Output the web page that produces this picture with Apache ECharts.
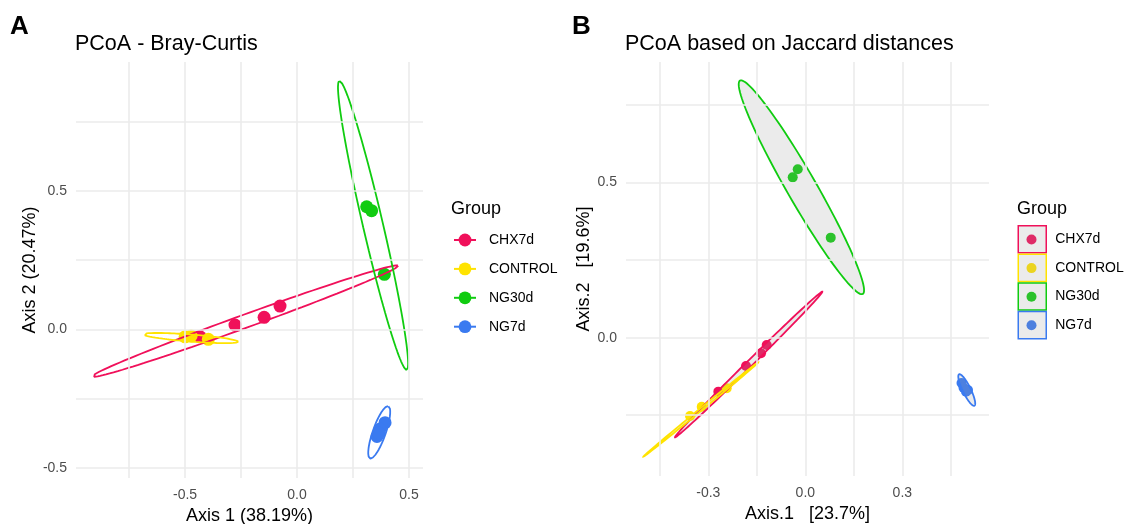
<!DOCTYPE html>
<html>
<head>
<meta charset="utf-8">
<script src="https://cdn.jsdelivr.net/npm/echarts@6/dist/echarts.min.js"></script>
<style>
  html, body { margin: 0; padding: 0; background: #fff; }
  #main { width: 1135px; height: 524px; }
</style>
</head>
<body>
<div id="main"></div>
<script>
const groups = ['CHX7d', 'CONTROL', 'NG30d', 'NG7d']
const groupColors = ['#F0105A', '#FFE300', '#10CC10', '#3A7AF0']

// panel A - Bray-Curtis ordination (Axis 1, Axis 2)
const brayCHX7d = [[-0.433, -0.027], [-0.277, 0.0155], [-0.147, 0.0434], [-0.076, 0.0842]]
const brayCONTROL = [[-0.500, -0.027], [-0.473, -0.024], [-0.396, -0.036]]
const brayNG30d = [[0.311, 0.443], [0.333, 0.429], [0.390, 0.199]]
const brayNG7d = [[0.393, -0.337], [0.3705, -0.360], [0.357, -0.387], [0.366, -0.375]]
// ellipses: centre, major semi-axis, minor semi-axis (data units), same order as groups
const brayEllipseCenter = [[-0.232, 0.0295], [-0.474, -0.0314], [0.3395, 0.3755], [0.367, -0.372]]
const brayEllipseMajor = [[0.684, 0.2005], [0.212, -0.0134], [-0.1505, 0.5225], [0.0408, 0.0945]]
const brayEllipseMinor = [[0.0100, -0.0224], [-0.0012, -0.0126], [0.0435, 0.0082], [0.0273, -0.0077]]
const brayXRange = [-0.987, 0.5625]
const brayYRange = [-0.537, 0.966]
const brayXTicks = [-0.5, 0, 0.5]
const brayYTicks = [-0.5, 0, 0.5]
const brayXMinor = [-0.75, -0.25, 0.25]
const brayYMinor = [-0.25, 0.25, 0.75]

// panel B - Jaccard ordination
const jacCHX7d = [[-0.1194, -0.0235], [-0.137, -0.0503], [-0.1834, -0.0913], [-0.269, -0.174]]
const jacCONTROL = [[-0.3566, -0.2526], [-0.3204, -0.2226], [-0.2431, -0.1632]]
const jacNG30d = [[-0.039, 0.517], [-0.0235, 0.543], [0.0786, 0.3226]]
const jacNG7d = [[0.483, -0.146], [0.489, -0.161], [0.497, -0.174], [0.503, -0.169]]
const jacEllipseCenter = [[-0.1753, -0.0865], [-0.3232, -0.2316], [-0.0122, 0.485], [0.4992, -0.1687]]
const jacEllipseMajor = [[0.2278, 0.2348], [0.1779, 0.1523], [0.1898, -0.344], [0.0237, -0.0506]]
const jacEllipseMinor = [[0.0065, -0.0069], [0.00235, -0.0030], [0.0394, 0.0236], [0.0111, 0.00565]]
const jacXRange = [-0.5546, 0.568]
const jacYRange = [-0.446, 0.889]
const jacXTicks = [-0.3, 0, 0.3]
const jacYTicks = [0, 0.5]
const jacXMinor = [-0.45, -0.15, 0.15, 0.45]
const jacYMinor = [-0.25, 0.25, 0.75]

const brayPoints = [brayCHX7d, brayCONTROL, brayNG30d, brayNG7d]
const jacPoints = [jacCHX7d, jacCONTROL, jacNG30d, jacNG7d]

const FONT = 'Liberation Sans, Arial, sans-serif'
const GRID_COLOR = '#ebebeb'
const ELLIPSE_FILL = 'rgba(153,153,153,0.2)'

/** outline of an ellipse from its centre and two semi-axis vectors */
function ellipseOutline(c, u, v) {
  const pts = []
  for (let i = 0; i <= 120; i++) {
    const t = 2 * Math.PI * i / 120
    pts.push([
      c[0] + u[0] * Math.cos(t) + v[0] * Math.sin(t),
      c[1] + u[1] * Math.cos(t) + v[1] * Math.sin(t)
    ])
  }
  return pts
}

function fmt(v) {
  return Number(v).toFixed(1)
}

function xAxisOf(gridIndex, range, ticks, name) {
  return {
    gridIndex,
    type: 'value',
    min: range[0],
    max: range[1],
    axisLine: { show: false },
    axisTick: { show: false },
    splitLine: { show: false },
    axisLabel: {
      customValues: ticks,
      formatter: fmt,
      color: '#4d4d4d',
      fontSize: 14,
      margin: 10
    },
    name,
    nameLocation: 'middle',
    nameGap: 28,
    nameTextStyle: { color: '#000', fontSize: 18 }
  }
}

function yAxisOf(gridIndex, range, ticks, name, gap) {
  return {
    gridIndex,
    type: 'value',
    min: range[0],
    max: range[1],
    axisLine: { show: false },
    axisTick: { show: false },
    splitLine: { show: false },
    axisLabel: {
      customValues: ticks,
      formatter: fmt,
      color: '#4d4d4d',
      fontSize: 14,
      margin: 9
    },
    name,
    nameLocation: 'middle',
    nameRotate: 90,
    nameGap: gap,
    nameTextStyle: { color: '#000', fontSize: 18 }
  }
}

// background grid lines drawn as mark lines
function gridSeries(index, xs, ys) {
  return {
    name: 'grid' + index,
    type: 'line',
    xAxisIndex: index,
    yAxisIndex: index,
    data: [],
    silent: true,
    z: 0,
    markLine: {
      silent: true,
      symbol: 'none',
      animation: false,
      label: { show: false },
      lineStyle: { color: GRID_COLOR, width: 1.6, type: 'solid' },
      emphasis: { disabled: true },
      data: xs.map(v => ({ xAxis: v })).concat(ys.map(v => ({ yAxis: v })))
    }
  }
}

const series = []

// panel A ellipses first so the legend takes its line + point icon from them
groups.forEach((g, i) => {
  series.push({
    name: g,
    type: 'line',
    xAxisIndex: 0,
    yAxisIndex: 0,
    data: ellipseOutline(brayEllipseCenter[i], brayEllipseMajor[i], brayEllipseMinor[i]),
    symbol: 'circle',
    showSymbol: false,
    smooth: false,
    silent: true,
    clip: false,
    z: 4,
    itemStyle: { color: groupColors[i] },
    lineStyle: { color: groupColors[i], width: 1.8 }
  })
})

series.push(gridSeries(0, brayXTicks.concat(brayXMinor), brayYTicks.concat(brayYMinor)))
series.push(gridSeries(1, jacXTicks.concat(jacXMinor), jacYTicks.concat(jacYMinor)))

groups.forEach((g, i) => {
  series.push({
    name: g,
    type: 'scatter',
    xAxisIndex: 0,
    yAxisIndex: 0,
    data: brayPoints[i],
    symbolSize: 13,
    silent: true,
    z: 3,
    itemStyle: { color: groupColors[i], opacity: 1 }
  })
})

groups.forEach((g, i) => {
  series.push({
    name: g,
    type: 'scatter',
    xAxisIndex: 1,
    yAxisIndex: 1,
    data: jacPoints[i],
    symbolSize: 10,
    silent: true,
    z: 3,
    itemStyle: { color: groupColors[i], opacity: 1 }
  })
})

groups.forEach((g, i) => {
  const outline = ellipseOutline(jacEllipseCenter[i], jacEllipseMajor[i], jacEllipseMinor[i])
  series.push({
    name: g,
    type: 'custom',
    xAxisIndex: 1,
    yAxisIndex: 1,
    data: [jacEllipseCenter[i]],
    silent: true,
    z: 4,
    renderItem(params, api) {
      return {
        type: 'polygon',
        shape: { points: outline.map(p => api.coord(p)) },
        style: { fill: ELLIPSE_FILL, stroke: groupColors[i], lineWidth: 1.8 }
      }
    }
  })
})

const chart = echarts.init(document.getElementById('main'), null, { renderer: 'canvas' })
chart.setOption({
  animation: false,
  backgroundColor: '#fff',
  textStyle: { fontFamily: FONT },
  title: [
    { text: 'A', left: 10, top: 14, padding: 0, textStyle: { fontSize: 26, fontWeight: 'bold', color: '#000', fontFamily: FONT } },
    { text: 'PCoA - Bray-Curtis', left: 75, top: 33, padding: 0, textStyle: { fontSize: 21.5, fontWeight: 'normal', color: '#000', fontFamily: FONT } },
    { text: 'B', left: 572, top: 14, padding: 0, textStyle: { fontSize: 26, fontWeight: 'bold', color: '#000', fontFamily: FONT } },
    { text: 'PCoA based on Jaccard distances', left: 625, top: 33, padding: 0, textStyle: { fontSize: 21.5, fontWeight: 'normal', color: '#000', fontFamily: FONT } },
    { text: 'Group', left: 451, top: 200, padding: 0, textStyle: { fontSize: 18, fontWeight: 'normal', color: '#000', fontFamily: FONT } },
    { text: 'Group', left: 1017, top: 200, padding: 0, textStyle: { fontSize: 18, fontWeight: 'normal', color: '#000', fontFamily: FONT } }
  ],
  legend: [
    {
      left: 453,
      top: 233,
      orient: 'vertical',
      padding: 0,
      itemWidth: 22,
      itemHeight: 16,
      itemGap: 14.9,
      selectedMode: false,
      textStyle: { fontSize: 14, color: '#000', padding: [0, 0, 0, 8] },
      data: groups
    },
    {
      left: 1026.5,
      top: 234.5,
      orient: 'vertical',
      padding: 0,
      itemWidth: 10,
      itemHeight: 10,
      itemGap: 18.6,
      icon: 'circle',
      selectedMode: false,
      z: 3,
      textStyle: { fontSize: 1, color: 'rgba(0,0,0,0)' },
      data: groups.map((g, i) => ({ name: g, itemStyle: { color: groupColors[i], borderWidth: 0 } }))
    },
    {
      left: 1017.5,
      top: 225,
      orient: 'vertical',
      padding: 0,
      itemWidth: 28,
      itemHeight: 27.1,
      itemGap: 0,
      icon: 'rect',
      selectedMode: false,
      z: 5,
      textStyle: { fontSize: 14, color: '#000', padding: [0, 0, 0, 4] },
      data: groups.map((g, i) => ({
        name: g,
        itemStyle: { color: ELLIPSE_FILL, borderColor: groupColors[i], borderWidth: 1.5 }
      }))
    }
  ],
  grid: [
    { left: 76, top: 62, width: 347, height: 416, outerBoundsMode: 'none', containLabel: false },
    { left: 626, top: 62, width: 363, height: 414, outerBoundsMode: 'none', containLabel: false }
  ],
  xAxis: [
    xAxisOf(0, brayXRange, brayXTicks, 'Axis 1 (38.19%)'),
    xAxisOf(1, jacXRange, jacXTicks, 'Axis.1   [23.7%]')
  ],
  yAxis: [
    yAxisOf(0, brayYRange, brayYTicks, 'Axis 2 (20.47%)', 37),
    yAxisOf(1, jacYRange, jacYTicks, 'Axis.2   [19.6%]', 33)
  ],
  series
})
</script>
</body>
</html>
